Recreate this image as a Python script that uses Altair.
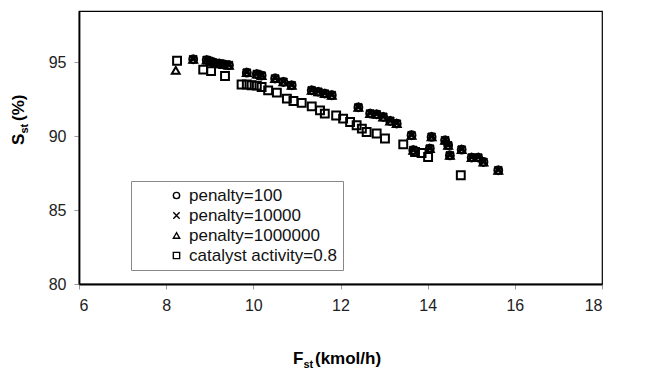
import altair as alt
import pandas as pd

# ---- data ----
pen_x = [8.62, 8.93, 9.02, 9.12, 9.22, 9.32, 9.44, 9.85, 10.08, 10.19, 10.5, 10.69,
         10.88, 11.34, 11.49, 11.64, 11.8, 12.41, 12.68, 12.83, 12.98, 13.14, 13.29,
         13.63, 13.67, 14.05, 14.09, 14.4, 14.47, 14.51, 14.78, 15.01, 15.16, 15.28, 15.62]
pen_y = [95.2, 95.15, 95.05, 94.95, 94.9, 94.85, 94.8, 94.3, 94.2, 94.1, 93.9, 93.67,
         93.44, 93.1, 93.0, 92.88, 92.77, 91.95, 91.53, 91.48, 91.3, 91.03, 90.85,
         90.06, 89.05, 89.16, 89.95, 89.72, 89.38, 88.7, 89.09, 88.55, 88.55, 88.25, 87.69]
tri_extra_x = [8.22]
tri_extra_y = [94.45]
cat_x = [8.25, 8.85, 9.03, 9.35, 9.73, 9.85, 9.96, 10.08, 10.19, 10.34, 10.54, 10.77,
         10.92, 11.11, 11.34, 11.53, 11.64, 11.9, 12.06, 12.22, 12.37, 12.49, 12.6,
         12.83, 13.02, 13.44, 13.71, 13.86, 14.01, 14.76]
cat_y = [95.1, 94.5, 94.4, 94.07, 93.5, 93.5, 93.45, 93.42, 93.33, 93.1, 92.95, 92.54,
         92.38, 92.25, 92.02, 91.75, 91.53, 91.4, 91.19, 90.96, 90.74, 90.51, 90.28,
         90.18, 89.84, 89.45, 88.93, 88.86, 88.59, 87.36]

series = ["penalty=100", "penalty=10000", "penalty=1000000", "catalyst activity=0.8"]
x_ticks = [6, 8, 10, 12, 14, 16, 18]
y_ticks = [80, 85, 90, 95]

rows = []
for name, xs, ys in [(series[0], pen_x, pen_y),
                     (series[1], pen_x, pen_y),
                     (series[2], tri_extra_x + pen_x, tri_extra_y + pen_y),
                     (series[3], cat_x, cat_y)]:
    for a, b in zip(xs, ys):
        rows.append({"F": a, "S": b, "series": name})
df = pd.DataFrame(rows)

x_path = "M-1,-1L1,1M-1,1L1,-1"
FONT = "Liberation Sans"

points = alt.Chart(df).mark_point(
    filled=False, color="black", strokeWidth=2, size=62, opacity=1
).encode(
    x=alt.X("F:Q", scale=alt.Scale(domain=[6, 18], nice=False, zero=False),
            axis=alt.Axis(values=x_ticks, title=None, grid=False, format="d")),
    y=alt.Y("S:Q", scale=alt.Scale(domain=[80, 98.47], nice=False, zero=False),
            axis=alt.Axis(values=y_ticks, title=None, grid=False, format="d")),
    shape=alt.Shape("series:N",
                    scale=alt.Scale(domain=series,
                                    range=["circle", x_path, "triangle-up", "square"]),
                    legend=alt.Legend(title=None, orient="none", legendX=52, legendY=170,
                                      padding=6, symbolOffset=31, rowPadding=2,
                                      labelFont=FONT, labelFontSize=17, labelColor="#111",
                                      symbolSize=40, symbolStrokeWidth=1.4,
                                      symbolStrokeColor="black",
                                      strokeColor="#888", fillColor="white",
                                      labelLimit=300)),
)

one = pd.DataFrame({"k": [0]})

def txt(s, x, y, size, angle=0):
    return alt.Chart(one).mark_text(
        text=s, align="left", baseline="alphabetic", font=FONT, fontWeight="bold",
        fontSize=size, angle=angle, color="black"
    ).encode(x=alt.value(x), y=alt.value(y))

titles = [
    txt("F", 214, 353, 17),
    txt("st", 224.5, 357, 11),
    txt("(kmol/h)", 236, 353, 17),
    txt("S", -55, 134, 17, 270),
    txt("st", -51, 122.5, 11, 270),
    txt("(%)", -55, 110, 17, 270),
]

chart = alt.layer(points, *titles).properties(
    width=523, height=273,
    padding={"left": 71, "top": 3, "right": 40, "bottom": 85},
    autosize="none",
).configure_view(
    stroke="black", strokeWidth=1.2
).configure_axis(
    domainColor="black", domainWidth=1.8,
    tickColor="#999", tickSize=5, tickWidth=1,
    labelFont=FONT, labelFontSize=16, labelColor="#222", labelPadding=8,
)

chart.save("out.html", embed_options={"renderer": "svg", "actions": False})
